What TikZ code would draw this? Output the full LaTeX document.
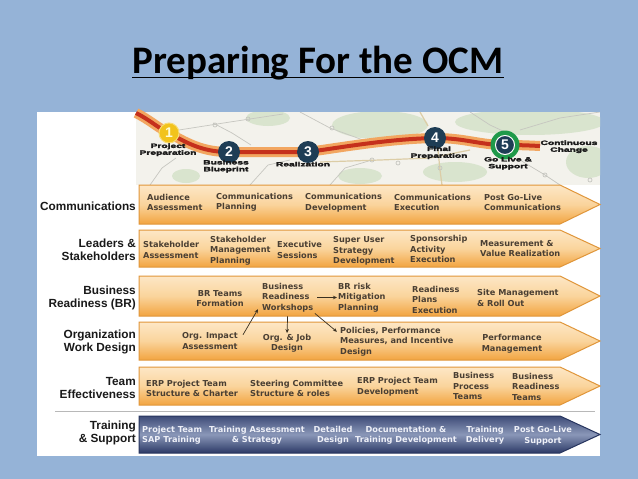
\documentclass[tikz,border=0pt]{standalone}
\usepackage{fontspec}
\usepackage{graphicx}
\setmainfont{Carlito}
\newfontfamily\labfont{Liberation Sans}
\newfontfamily\heavyfont{Liberation Sans}[BoldFeatures={FakeBold=2.5}]
\newfontfamily\boxfont{DejaVu Sans}
\usetikzlibrary{arrows.meta,calc}
\definecolor{bgblue}{HTML}{95B3D7}
\definecolor{mapbg}{HTML}{F3F2EC}
\definecolor{mapgreen}{HTML}{D9E4CE}
\definecolor{roadgray}{HTML}{C6C6C0}
\definecolor{roadtan}{HTML}{DCCDA6}
\definecolor{routeor}{HTML}{F2A660}
\definecolor{routered}{HTML}{C5301C}
\definecolor{navyc}{HTML}{1E3D55}
\definecolor{yellowc}{HTML}{F2C31C}
\definecolor{greenc}{HTML}{1F9A4A}
\definecolor{obrd}{HTML}{E0963A}
\definecolor{otop}{HTML}{FDE7C6}
\definecolor{omid}{HTML}{FAD49C}
\definecolor{obot}{HTML}{F2A440}
\definecolor{bbrd}{HTML}{27355F}
\definecolor{btop}{HTML}{3E4C78}
\definecolor{bmid}{HTML}{8A97B8}
\definecolor{bbot}{HTML}{2B3966}
\definecolor{txtbrown}{HTML}{4A3F33}
\definecolor{txtlight}{HTML}{EEF0F8}
\definecolor{connc}{HTML}{3A3020}
\newcommand\maplabel[1]{\scalebox{1.65}[1]{\begin{tabular}{@{}c@{}}#1\end{tabular}}}
\newcommand\mybandpath[2]{(139,#1) -- (560,#1) -- (600,{(#1+#2)/2}) -- (560,#2) -- (139,#2) -- cycle}
\begin{document}
\begin{tikzpicture}[x=1pt,y=-1pt,
  rowlabel/.style={anchor=east, align=right, inner sep=0, font=\labfont\bfseries\fontsize{11.8}{13}\selectfont, text=black!90},
  btxt/.style={inner sep=0, font=\boxfont\bfseries\fontsize{8.2}{10.5}\selectfont, text=txtbrown},
  bl/.style={btxt, anchor=west, align=left},
  bc/.style={btxt, align=center},
  wt/.style={text=txtlight},
  maplab/.style={inner sep=0, font=\heavyfont\bfseries\fontsize{6.2}{6.8}\selectfont, text=black!90},
  numc/.style={circle, inner sep=0, minimum size=22pt, font=\labfont\bfseries\fontsize{14}{14}\selectfont, text=white},
  conn/.style={draw=connc, line width=0.7pt, -{Stealth[length=4pt,width=3.5pt]}},
  oband/.style={draw=obrd, line width=1pt, top color=otop, bottom color=obot, middle color=omid},
  nband/.style={draw=bbrd, line width=1pt, top color=btop, bottom color=bbot, middle color=bmid},
  road/.style={draw=roadgray, line width=0.7pt},
  tanroad/.style={draw=roadtan, line width=1.2pt}
]
\useasboundingbox (0,0) rectangle (638,479);
\fill[bgblue] (0,0) rectangle (638,479);

% title
\node[inner sep=0, anchor=base, font=\fontsize{39}{45}\selectfont\bfseries] (title) at (318,73) {Preparing For the OCM};
\draw[line width=1.8pt] ($(title.base west)+(0,4.5)$) -- ($(title.base east)+(0,4.5)$);

% white panel
\fill[white] (37,112) rectangle (600,456);

% map
\begin{scope}
\clip (136,112) rectangle (600,185);
\fill[mapbg] (136,112) rectangle (600,185);
\fill[mapgreen] (380,125) ellipse [x radius=48pt, y radius=14pt];
\fill[mapgreen] (530,122) ellipse [x radius=75pt, y radius=13pt];
\fill[mapgreen] (588,162) ellipse [x radius=22pt, y radius=16pt];
\fill[mapgreen] (186,176) ellipse [x radius=14pt, y radius=7pt];
\fill[mapgreen] (268,118) ellipse [x radius=22pt, y radius=8pt];
\fill[mapgreen] (455,172) ellipse [x radius=32pt, y radius=10pt];
\fill[mapgreen] (360,176) ellipse [x radius=22pt, y radius=8pt];
\draw[road] (150,185) -- (162,168) -- (176,158);
\draw[road] (179,130) -- (230,122) -- (283,114);
\draw[road] (213,123) -- (232,133) -- (251,145);
\draw[road] (300,112) -- (330,128) -- (363,140);
\draw[road] (250,185) -- (268,165) -- (290,160);
\draw[road] (330,185) -- (345,168) -- (372,160);
\draw[road] (520,130) -- (560,118) -- (600,112);
\draw[road] (470,112) -- (490,125) -- (505,132);
\draw[road] (520,160) -- (545,175) -- (560,185);
\draw[tanroad] (320,162) -- (380,160) -- (430,158) -- (470,150);
\draw[tanroad] (438,150) -- (440,170) -- (442,185);
\draw[tanroad] (420,112) -- (428,126);
\draw[road] (215,125) circle (2pt);
\draw[road] (248,119) circle (2pt);
\draw[road] (332,128) circle (2pt);
\draw[road] (372,160) circle (2pt);
\draw[road] (398,163) circle (2pt);
\draw[road] (440,168) circle (2pt);
\draw[road] (545,175) circle (2pt);
\draw[road] (590,180) circle (2pt);
\end{scope}

% route
\draw[routeor, line width=10pt]
  (136,113) .. controls (150,120) and (158,128) .. (169,133)
  .. controls (190,145) and (205,152) .. (229,152)
  -- (308,152)
  .. controls (350,146) and (390,139) .. (435,138)
  .. controls (465,138) and (480,145) .. (505,145)
  .. controls (520,145) and (530,145.5) .. (540,146);
\draw[routered, line width=4pt]
  (136,113) .. controls (150,120) and (158,128) .. (169,133)
  .. controls (190,145) and (205,152) .. (229,152)
  -- (308,152)
  .. controls (350,146) and (390,139) .. (435,138)
  .. controls (465,138) and (480,145) .. (505,145)
  .. controls (520,145) and (530,145.5) .. (540,146);

% milestones
\node[numc, fill=yellowc, draw=yellowc!60!white, line width=1pt, minimum size=20pt, text=yellow!15!white] (c1) at (169,133) {1};
\node[numc, fill=navyc] (c2) at (229,152) {2};
\node[numc, fill=navyc] (c3) at (308,152) {3};
\node[numc, fill=navyc] (c4) at (435,138) {4};
\fill[greenc] (505,145) circle (14.5pt);
\node[numc, fill=navyc, draw=white, line width=1pt, minimum size=19pt] (c5) at (505,145) {5};

\node[maplab] (pp) at (168,150) {\maplabel{Project\\Preparation}};
\node[maplab] (bb) at (226,166.5) {\maplabel{Business\\Blueprint}};
\node[maplab] (rz) at (303,165) {\maplabel{Realization}};
\node[maplab] (fp) at (439,153) {\maplabel{Final\\Preparation}};
\node[maplab] (gl) at (508,163.5) {\maplabel{Go Live \&\\Support}};
\node[maplab] (cc) at (569,147) {\maplabel{Continuous\\Change}};

% bands
\shadedraw[oband] \mybandpath{185}{224};
\shadedraw[oband] \mybandpath{230}{267};
\shadedraw[oband] \mybandpath{276}{316};
\shadedraw[oband] \mybandpath{322}{360};
\shadedraw[oband] \mybandpath{367}{405};
\draw[draw=black!28, line width=0.8pt] (55,411) -- (595,411);
\shadedraw[nband] \mybandpath{416}{453};

% row labels
\node[rowlabel] (l1) at (136,206) {Communications};
\node[rowlabel] (l2) at (136,249.5) {Leaders \&\\Stakeholders};
\node[rowlabel] (l3) at (136,297.5) {Business\\Readiness (BR)};
\node[rowlabel] (l4) at (136,341.5) {Organization\\Work Design};
\node[rowlabel] (l5) at (136,387.5) {Team\\Effectiveness};
\node[rowlabel] (l6) at (136,433) {Training\\\& Support};

% row 1
\node[bl] (a1) at (147,202.5) {Audience\\Assessment};
\node[bl] (a2) at (216,202.5) {Communications\\Planning};
\node[bl] (a3) at (305,202.5) {Communications\\Development};
\node[bl] (a4) at (394,202.5) {Communications\\Execution};
\node[bl] (a5) at (484,202.5) {Post Go-Live\\Communications};

% row 2
\node[bl] (b1) at (143,250) {Stakeholder\\Assessment};
\node[bl] (b2) at (210,250.5) {Stakeholder\\Management\\Planning};
\node[bl] (b3) at (277,250) {Executive\\Sessions};
\node[bl] (b4) at (333,251) {Super User\\Strategy\\Development};
\node[bl] (b5) at (410,249) {Sponsorship\\Activity\\Execution};
\node[bl] (b6) at (480,248.5) {Measurement \&\\Value Realization};

% row 3
\node[bc] (brt) at (220,298.5) {BR Teams\\Formation};
\node[bl] (brw) at (262,297.5) {Business\\Readiness\\Workshops};
\node[bl] (brm) at (338,297.5) {BR risk\\Mitigation\\Planning};
\node[bl] (rpe) at (412,299.5) {Readiness\\Plans\\Execution};
\node[bl] (smr) at (477,298) {Site Management\\\& Roll Out};

% row 4
\node[bc] (oia) at (210,341) {Org. Impact\\Assessment};
\node[bc] (ojd) at (287,343.5) {Org. \& Job\\Design};
\node[bl] (pol) at (340,341.5) {Policies, Performance\\Measures, and Incentive\\Design};
\node[bc] (pm) at (512,344) {Performance\\Management};

% row 5
\node[bl] (t1) at (146,388.5) {ERP Project Team\\Structure \& Charter};
\node[bl] (t2) at (250,388.5) {Steering Committee\\Structure \& roles};
\node[bl] (t3) at (357,386.5) {ERP Project Team\\Development};
\node[bl] (t4) at (453,386) {Business\\Process\\Teams};
\node[bl] (t5) at (512,386.5) {Business\\Readiness\\Teams};

% row 6
\node[bl, wt] (s1) at (142,435.5) {Project Team\\SAP Training};
\node[bc, wt] (s2) at (257,435.5) {Training Assessment\\\& Strategy};
\node[bc, wt] (s3) at (333,435.5) {Detailed\\Design};
\node[bc, wt] (s4) at (406,435.5) {Documentation \&\\Training Development};
\node[bc, wt] (s5) at (485,435.5) {Training\\Delivery};
\node[bc, wt] (s6) at (543,435.5) {Post Go-Live\\Support};

% connectors
\draw[conn, shorten <=4pt, shorten >=1pt] (brw.east) -- (brm.west);
\draw[conn, shorten <=2pt] ([shift={(4,4)}]oia.north east) -- ([shift={(-4,-3)}]brw.south west);
\draw[conn, shorten <=2pt, shorten >=1pt] ([yshift=-2pt]brw.south) -- (ojd.north);
\draw[conn, shorten <=2pt] (brw.south east) -- ([shift={(-3,5)}]pol.north west);
\end{tikzpicture}
\end{document}
